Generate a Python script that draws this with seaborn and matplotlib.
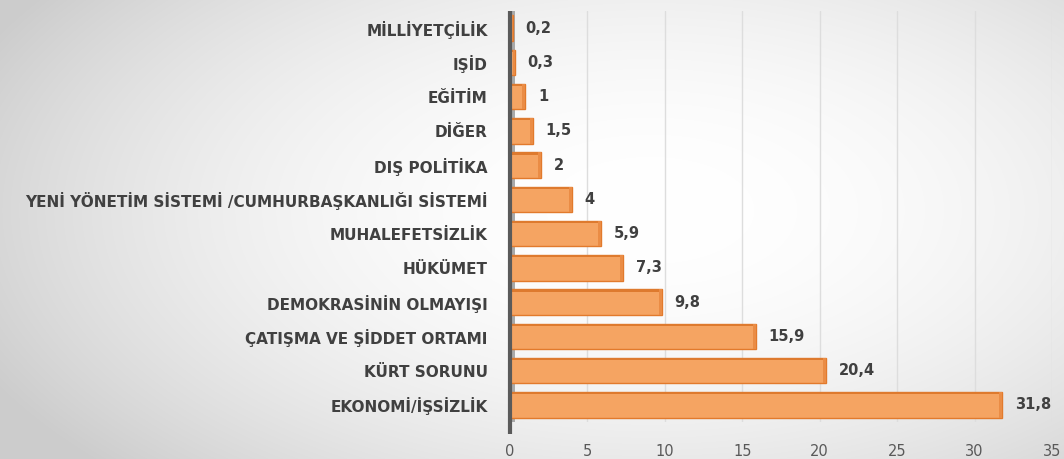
import numpy as np
import pandas as pd
import matplotlib
matplotlib.use("Agg")
import matplotlib.pyplot as plt
import seaborn as sns

# ---- data (top to bottom) ----
categories = [
    "MİLLİYETÇİLİK",
    "IŞİD",
    "EĞİTİM",
    "DİĞER",
    "DIŞ POLİTİKA",
    "YENİ YÖNETİM SİSTEMİ /CUMHURBAŞKANLIĞI SİSTEMİ",
    "MUHALEFETSİZLİK",
    "HÜKÜMET",
    "DEMOKRASİNİN OLMAYIŞI",
    "ÇATIŞMA VE ŞİDDET ORTAMI",
    "KÜRT SORUNU",
    "EKONOMİ/İŞSİZLİK",
]
values = [0.2, 0.3, 1, 1.5, 2, 4, 5.9, 7.3, 9.8, 15.9, 20.4, 31.8]
x_ticks = [0, 5, 10, 15, 20, 25, 30, 35]

df = pd.DataFrame({"category": categories, "value": values})

sns.set_theme(style="white")
plt.rcParams["font.family"] = ["DejaVu Sans"]

W, H = 1064, 459
fig = plt.figure(figsize=(W / 100, H / 100), dpi=100)

# background radial gradient
bg = fig.add_axes([0, 0, 1, 1], zorder=0)
yy, xx = np.mgrid[0:H, 0:W]
r = np.sqrt(((xx - 650) / 620) ** 2 + ((yy - 210) / 320) ** 2)
shade = 1 - 0.14 * np.clip(r, 0, 1.4) ** 2
shade = np.clip(shade, 0.80, 1)
bg.imshow(np.dstack([shade] * 3), aspect="auto", extent=[0, 1, 0, 1])
bg.set_axis_off()

# main axes
ax = fig.add_axes([510 / W, 37 / H, 542 / W, 411 / H], zorder=1)
ax.patch.set_alpha(0)

bar_face = "#f5a462"
bar_dark = "#e27a2c"
n = len(categories)
pos = np.arange(n)
bw = 0.75

sns.barplot(data=df, y="category", x="value", order=categories, orient="h",
            color=bar_face, saturation=1, width=bw, edgecolor=bar_dark,
            linewidth=1.0, ax=ax, zorder=3)
for p in ax.patches:
    p.set_facecolor(bar_face)

# 3D-like top strip and end caps
ax.barh(pos - bw / 2, values, height=0.07, align="edge", color="#de7a2e",
        zorder=4, linewidth=0)
cap = [min(0.2, v * 0.4) for v in values]
ax.barh(pos, cap, left=np.array(values) - np.array(cap), height=bw,
        color="#ea8c45", zorder=4, linewidth=0)

# back wall at zero
ax.axvspan(0.0, 0.35, color="#a9a9a9", zorder=2, lw=0)
ax.plot([0, 0], [-0.03, 1.0], transform=ax.get_xaxis_transform(),
        color="#5a5a5a", lw=3, zorder=5, clip_on=False, solid_capstyle="butt")

# value labels
for i, v in enumerate(values):
    ax.annotate(f"{v:g}".replace(".", ","), xy=(v, i), xytext=(9, 0),
                textcoords="offset points", va="center", ha="left",
                fontsize=10.5, fontweight="bold", color="#404040", zorder=6)

ax.set_xlim(0, 35)
ax.set_ylim(n - 0.5, -0.5)
ax.set_xticks(x_ticks)
ax.set_xticklabels([str(t) for t in x_ticks])
ax.set_xlabel("")
ax.set_ylabel("")
ax.grid(axis="x", color="#dddddd", lw=1, zorder=1)
ax.grid(axis="y", visible=False)
for s in ax.spines.values():
    s.set_visible(False)
ax.tick_params(axis="x", length=0, pad=15.5, labelsize=10.5, labelcolor="#595959")
ax.tick_params(axis="y", length=0, pad=16, labelsize=11, labelcolor="#404040")
for lab in ax.get_yticklabels():
    lab.set_fontweight("bold")

fig.savefig("out.png", dpi=100)
